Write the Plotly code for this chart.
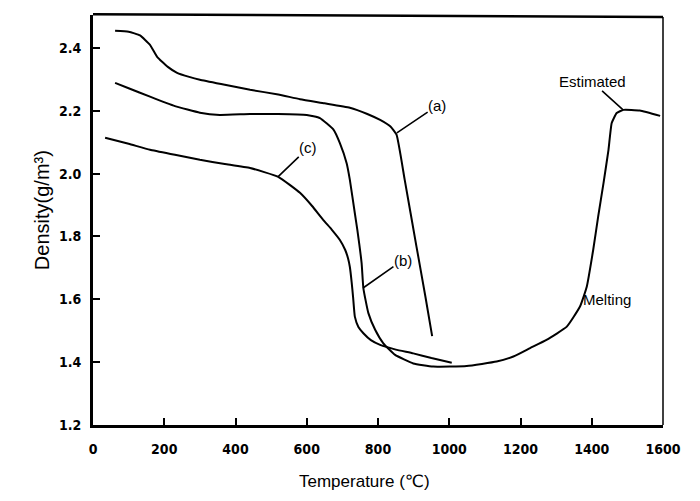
import plotly.graph_objects as go

# ---- data ----
a_temp = [62, 100, 132, 160, 180, 210, 236, 270, 300, 370, 441, 520, 581, 650, 721, 770, 806, 835, 852, 875, 908, 933, 952]
a_density = [2.455, 2.452, 2.44, 2.41, 2.372, 2.34, 2.321, 2.308, 2.299, 2.283, 2.267, 2.252, 2.237, 2.224, 2.21, 2.19, 2.171, 2.15, 2.124, 1.98, 1.768, 1.609, 1.483]

b_temp = [62, 100, 160, 230, 300, 356, 441, 520, 600, 637, 675, 693, 712, 721, 735, 742, 754, 759, 773, 792, 815, 848, 899, 955,
          1049, 1133, 1180, 1227, 1273, 1330, 1367, 1386, 1404, 1418, 1433, 1447, 1456, 1470, 1489, 1535, 1592]
b_density = [2.289, 2.272, 2.245, 2.215, 2.194, 2.187, 2.19, 2.19, 2.187, 2.177, 2.14, 2.097, 2.033, 1.98, 1.874, 1.821, 1.715, 1.635, 1.556, 1.503, 1.46, 1.423, 1.396, 1.386,
             1.388, 1.402, 1.418, 1.445, 1.471, 1.513, 1.577, 1.64, 1.757, 1.863, 1.97, 2.076, 2.161, 2.193, 2.203, 2.201, 2.184]

c_temp = [34, 100, 160, 230, 300, 370, 441, 520, 581, 615, 646, 670, 693, 708, 716, 721, 726, 730, 735, 745, 759, 780, 806, 850, 899, 950, 1007]
c_density = [2.114, 2.095, 2.076, 2.06, 2.044, 2.031, 2.018, 1.99, 1.939, 1.897, 1.853, 1.822, 1.789, 1.757, 1.73, 1.703, 1.655, 1.608, 1.545, 1.512, 1.492, 1.47, 1.455, 1.44, 1.428, 1.413, 1.398]

x_ticks = [0, 200, 400, 600, 800, 1000, 1200, 1400, 1600]
y_ticks = [1.2, 1.4, 1.6, 1.8, 2.0, 2.2, 2.4]
y_tick_text = ["1.2", "1.4", "1.6", "1.8", "2.0", "2.2", "2.4"]

# labels: text, point on curve, text position
label_texts = ["(a)", "(b)", "(c)", "Estimated"]
label_tip_x = [853, 758, 519, 1488]
label_tip_y = [2.130, 1.636, 1.990, 2.203]
label_txt_x = [966, 870, 604, 1401]
label_txt_y = [2.216, 1.725, 2.082, 2.292]
melting_text = "Melting"
melting_x = 1442
melting_y = 1.598

fig = go.Figure()
for xs, ys in [(a_temp, a_density), (b_temp, b_density), (c_temp, c_density)]:
    fig.add_trace(go.Scatter(x=xs, y=ys, mode="lines",
                             line=dict(color="black", width=2, shape="spline", smoothing=0.4),
                             hoverinfo="skip"))

label_font = dict(family="Liberation Sans, Arial, sans-serif", size=15, color="black")
for t, tx, ty, ax, ay in zip(label_texts, label_tip_x, label_tip_y, label_txt_x, label_txt_y):
    fig.add_annotation(x=tx, y=ty, ax=ax, ay=ay, xref="x", yref="y", axref="x", ayref="y",
                       text=t, showarrow=True, arrowhead=0, arrowwidth=1.6, arrowcolor="black",
                       font=label_font, borderpad=0)
fig.add_annotation(x=melting_x, y=melting_y, xref="x", yref="y", text=melting_text,
                   showarrow=False, font=label_font)

# axis titles
fig.add_annotation(x=0.477, y=-0.139, xref="paper", yref="paper", text="Temperature (℃)",
                   xanchor="center", yanchor="middle",
                   showarrow=False, font=dict(family="Liberation Sans, Arial, DejaVu Sans, sans-serif", size=17, color="black"))
fig.add_annotation(x=-0.0895, y=0.524, xref="paper", yref="paper", text="Density(g/m³)", textangle=-90,
                   xanchor="center", yanchor="middle",
                   showarrow=False, font=dict(family="Liberation Sans, Arial, sans-serif", size=20, color="black"))

# frame top/right
fig.add_shape(type="line", xref="paper", yref="paper", x0=0, y0=1.002, x1=1, y1=0.995,
              line=dict(color="black", width=2.5))
fig.add_shape(type="line", xref="paper", yref="paper", x0=1, y0=0.995, x1=1, y1=0,
              line=dict(color="black", width=1.5))

tick_font = dict(family="Liberation Sans Narrow, DejaVu Sans Condensed, Arial Narrow, Liberation Sans, sans-serif",
                 size=14, color="black", weight="bold")
fig.update_xaxes(range=[0, 1600], tickvals=x_ticks, ticktext=[str(v) for v in x_ticks],
                 ticks="inside", ticklen=7, tickwidth=2, tickcolor="black",
                 showline=True, linecolor="black", linewidth=3, showgrid=False, zeroline=False,
                 tickfont=tick_font, ticklabelstandoff=9, automargin=False)
fig.update_yaxes(range=[1.2, 2.505], tickvals=y_ticks, ticktext=y_tick_text,
                 ticks="inside", ticklen=7, tickwidth=2, tickcolor="black",
                 showline=True, linecolor="black", linewidth=3, showgrid=False, zeroline=False,
                 tickfont=tick_font, ticklabelstandoff=6, automargin=False)
# page body has an 8px margin: size/margins chosen so the plot area lands where the reference has it
fig.update_layout(width=684, height=485, margin=dict(l=85, r=29, t=7, b=68, autoexpand=False),
                  plot_bgcolor="white", paper_bgcolor="white", showlegend=False)

fig.write_html("out.html")
